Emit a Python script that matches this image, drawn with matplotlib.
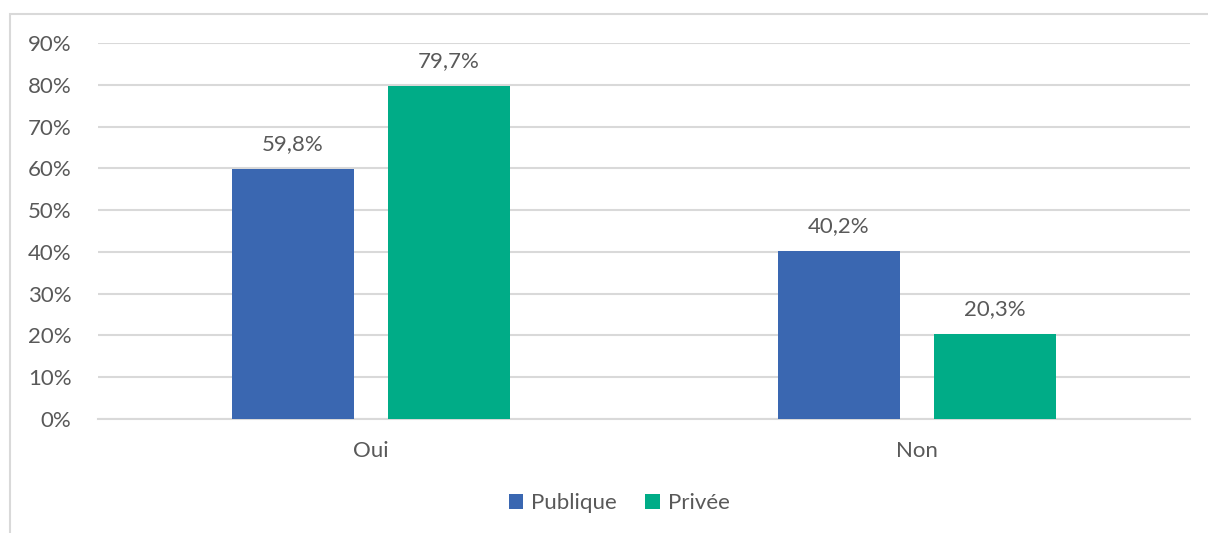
import matplotlib.pyplot as plt
import matplotlib.patches as mpatches
import numpy as np

categories = ["Oui", "Non"]
publique = [59.8, 40.2]
privee = [79.7, 20.3]
series_names = ["Publique", "Privée"]
yticks = [0, 10, 20, 30, 40, 50, 60, 70, 80, 90]

plt.rcParams['font.family'] = ['Lato', 'DejaVu Sans']
txt = '#595959'
blue = '#3A67B1'
green = '#00AC87'
fs = 16

fig = plt.figure(figsize=(12.08, 5.33), dpi=100)
W, H = 1208, 533
ax = fig.add_axes([98 / W, 1 - 419 / H, (1190 - 98) / W, (419 - 43) / H])

x = np.arange(len(categories))
bw = 0.223
off = 0.143
b1 = ax.bar(x - off, publique, bw, color=blue, label=series_names[0], zorder=3)
b2 = ax.bar(x + off, privee, bw, color=green, label=series_names[1], zorder=3)

for bars, vals in ((b1, publique), (b2, privee)):
    for r, v in zip(bars, vals):
        ax.annotate(f"{v:.1f}%".replace('.', ','), (r.get_x() + r.get_width() / 2, v),
                    xytext=(0, 11), textcoords='offset points', ha='center', va='bottom',
                    fontsize=fs, color=txt)

ax.set_xlim(-0.5, 1.5)
ax.set_ylim(0, 90)
ax.set_yticks(yticks)
ax.set_yticklabels([f"{t}%" for t in yticks])
ax.set_xticks(x)
ax.set_xticklabels(categories)
ax.tick_params(axis='both', length=0, labelsize=fs, labelcolor=txt)
ax.tick_params(axis='y', pad=19)
ax.tick_params(axis='x', pad=16)
ax.grid(axis='y', color='#D9D9D9', linewidth=1.5, zorder=0)
for s in ['top', 'right', 'left']:
    ax.spines[s].set_visible(False)
ax.spines['bottom'].set_color('#D9D9D9')
ax.spines['bottom'].set_linewidth(1.5)

leg = fig.legend(handles=[b1, b2], loc='center', bbox_to_anchor=(619 / W, 1 - 503 / H), ncol=2,
                 frameon=False, fontsize=fs, handlelength=0.65, handleheight=0.65,
                 handletextpad=0.35, columnspacing=1.3)
for t in leg.get_texts():
    t.set_color(txt)

frame = mpatches.Rectangle((10 / W, -0.1), 1.2, 1 - 14 / H + 0.1, transform=fig.transFigure,
                           fill=False, edgecolor='#D9D9D9', linewidth=1.5)
fig.patches.append(frame)

fig.savefig('out.png', dpi=100)
